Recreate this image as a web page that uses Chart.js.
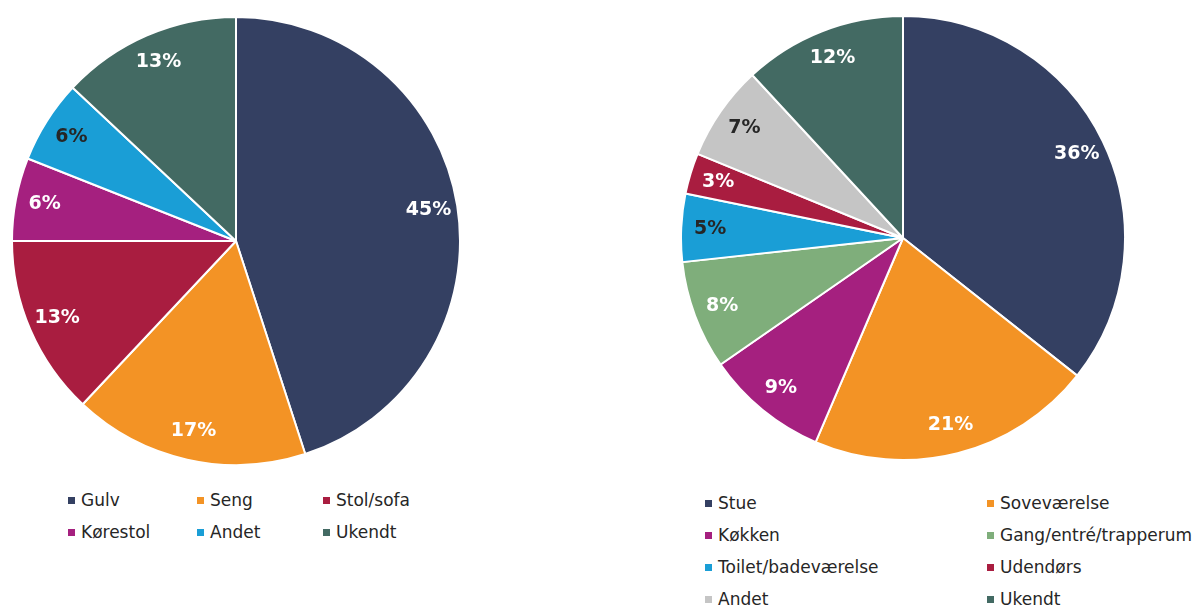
<!DOCTYPE html>
<html lang="da">
<head>
<meta charset="utf-8">
<title>Fordeling</title>
<script src="https://cdn.jsdelivr.net/npm/chart.js@4"></script>
<style>
  html, body { margin: 0; padding: 0; background: #fff; }
  body { width: 1196px; height: 607px; position: relative; overflow: hidden; font-family: "DejaVu Sans", Verdana, sans-serif; }
  .pie { position: absolute; }
  .legend { position: absolute; display: grid; font-size: 17px; color: #262626; }
  .legend .item { height: 32px; display: flex; align-items: center; white-space: nowrap; }
  .legend .box { width: 7px; height: 7px; margin-right: 6px; flex: none; }
</style>
</head>
<body>
<div class="pie" style="left:11px; top:16px; width:450px; height:450px;"><canvas id="pieSted"></canvas></div>
<div class="pie" style="left:680px; top:15px; width:446px; height:446px;"><canvas id="pieRum"></canvas></div>
<div class="legend" id="legendSted" style="left:68px; top:484px; grid-template-columns:129px 126px auto;"></div>
<div class="legend" id="legendRum" style="left:705px; top:487px; grid-template-columns:282px auto;"></div>
<script>
// venstre: hvor skete faldet
var stedLabels = ["Gulv", "Seng", "Stol/sofa", "Kørestol", "Andet", "Ukendt"];
var stedValues = [45, 17, 13, 6, 6, 13];

// højre: i hvilket rum
var rumLabels = ["Stue", "Soveværelse", "Køkken", "Gang/entré/trapperum", "Toilet/badeværelse", "Udendørs", "Andet", "Ukendt"];
var rumValues = [36, 21, 9, 8, 5, 3, 7, 12];

var stedColors = ["#344062", "#f39325", "#a91d40", "#a5207f", "#1a9ed6", "#436a63"];
var stedText = ["#fff", "#fff", "#fff", "#fff", "#262626", "#fff"];
var rumColors = ["#344062", "#f39325", "#a5207f", "#7fae7b", "#1a9ed6", "#a91d40", "#c5c5c5", "#436a63"];
var rumText = ["#fff", "#fff", "#fff", "#fff", "#262626", "#fff", "#262626", "#fff"];

// procent-tekst inde i hvert stykke
var pctLabels = {
    id: "pctLabels",
    afterDatasetsDraw: function (chart, args, opts) {
        var ctx = chart.ctx;
        var ds = chart.data.datasets[0];
        ctx.save();
        ctx.font = "bold 19px 'DejaVu Sans', Verdana, sans-serif";
        ctx.textAlign = "center";
        ctx.textBaseline = "middle";
        chart.getDatasetMeta(0).data.forEach(function (arc, i) {
            var p = arc.getProps(["x", "y", "startAngle", "endAngle", "outerRadius"], true);
            var mid = (p.startAngle + p.endAngle) / 2;
            var r = p.outerRadius * opts.offset;
            ctx.fillStyle = opts.colors[i];
            ctx.fillText(ds.data[i] + "%", p.x + Math.cos(mid) * r, p.y + Math.sin(mid) * r);
        });
        ctx.restore();
    }
};

function makePie(id, labels, values, colors, textColors) {
    return new Chart(document.getElementById(id), {
        type: "pie",
        data: {
            labels: labels,
            datasets: [{
                data: values,
                backgroundColor: colors,
                borderColor: "#fff",
                borderWidth: 2,
                hoverOffset: 0
            }]
        },
        options: {
            responsive: true,
            maintainAspectRatio: false,
            animation: false,
            events: [],
            layout: { padding: 0 },
            plugins: {
                legend: { display: false },
                tooltip: { enabled: false },
                pctLabels: { offset: 0.87, colors: textColors }
            }
        },
        plugins: [pctLabels]
    });
}

function makeLegend(id, labels, colors) {
    var box = document.getElementById(id);
    for (var i = 0; i < labels.length; i++) {
        var item = document.createElement("div");
        item.className = "item";
        item.innerHTML = '<span class="box" style="background:' + colors[i] + '"></span>' + labels[i];
        box.appendChild(item);
    }
}

makePie("pieSted", stedLabels, stedValues, stedColors, stedText);
makePie("pieRum", rumLabels, rumValues, rumColors, rumText);
makeLegend("legendSted", stedLabels, stedColors);
makeLegend("legendRum", rumLabels, rumColors);
</script>
</body>
</html>
